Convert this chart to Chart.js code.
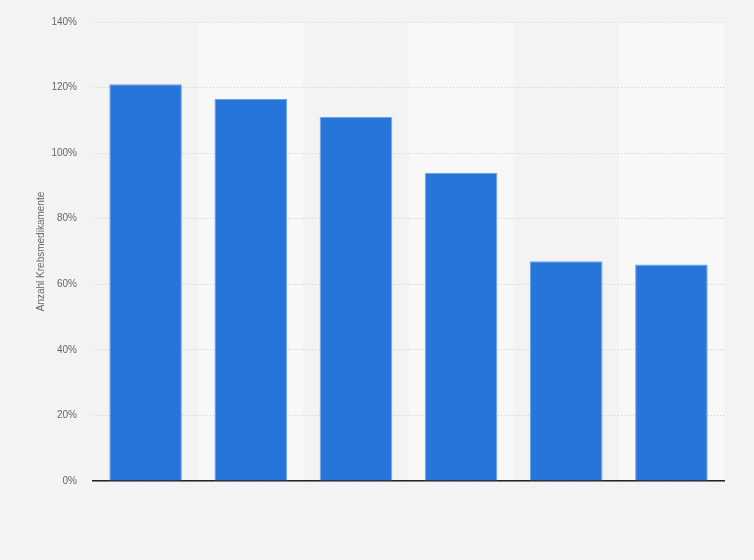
<!DOCTYPE html>
<html>
<head>
<meta charset="utf-8">
<script src="https://cdn.jsdelivr.net/npm/chart.js@4"></script>
<style>
  html, body { margin: 0; padding: 0; background: #f3f3f3; }
  #wrap { width: 754px; height: 560px; position: relative; }
</style>
</head>
<body>
<div id="wrap"><canvas id="chart" width="754" height="560"></canvas></div>
<script>
// values (no category labels are shown in the reference)
const categories = ["1", "2", "3", "4", "5", "6"];
const values = [121, 116.5, 111, 94, 67, 66];
const yTicks = [0, 20, 40, 60, 80, 100, 120, 140];
const yTitle = "Anzahl Krebsmedikamente";

// light bands behind every second category
const bandPlugin = {
    id: "bands",
    beforeDraw(chart) {
        const { ctx, chartArea, scales } = chart;
        const x = scales.x;
        const step = x.width / categories.length;
        ctx.save();
        categories.forEach((c, i) => {
            if (i % 2 === 1) {
                const cx = x.getPixelForValue(i);
                ctx.fillStyle = "#f8f8f8";
                ctx.fillRect(cx - step / 2, chartArea.top, step, chartArea.bottom - chartArea.top);
            }
        });
        ctx.restore();
    }
};

new Chart(document.getElementById("chart"), {
    type: "bar",
    data: {
        labels: categories,
        datasets: [{
            data: values,
            backgroundColor: "#2775d9",
            borderColor: "#6aa3ea",
            borderWidth: 1,
            barPercentage: 0.69,
            categoryPercentage: 1
        }]
    },
    options: {
        responsive: false,
        animation: false,
        devicePixelRatio: 1,
        layout: { padding: { left: 29, right: 30, top: 7, bottom: 79 } },
        plugins: { legend: { display: false }, tooltip: { enabled: false } },
        scales: {
            x: {
                grid: { display: false },
                ticks: { display: false },
                border: { display: true, color: "#222", width: 1.5 },
                afterFit: s => { s.height = 0; }
            },
            y: {
                min: 0,
                max: 140,
                afterBuildTicks: s => { s.ticks = yTicks.map(v => ({ value: v })); },
                afterFit: s => { s.width = 64; },
                grid: { color: "#cfcfcf", drawTicks: false },
                border: { display: false, dash: [1, 2] },
                ticks: {
                    padding: 16,
                    color: "#666",
                    font: { family: "Liberation Sans", size: 10 },
                    callback: v => v + "%"
                },
                title: {
                    display: true,
                    text: yTitle,
                    color: "#666",
                    font: { family: "Liberation Sans", size: 10 },
                    padding: { top: 6, bottom: 0 }
                }
            }
        }
    },
    plugins: [bandPlugin]
});
</script>
</body>
</html>
